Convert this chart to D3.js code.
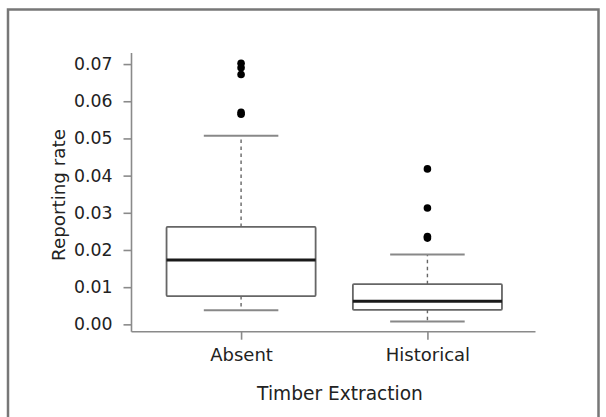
<!DOCTYPE html>
<html><head><meta charset="utf-8">
<script src="https://cdn.jsdelivr.net/npm/d3@7"></script>
<style>
html,body{margin:0;padding:0;background:#fff;}
svg text{font-family:"DejaVu Sans",sans-serif;fill:#222;}
</style></head>
<body><svg id="chart" width="606" height="417"></svg>
<script>
const categories = ["Absent", "Historical"];
const whiskerLow  = [0.0038, 0.0008];
const q1          = [0.0076, 0.0039];
const medians     = [0.0173, 0.0062];
const q3          = [0.0262, 0.0108];
const whiskerHigh = [0.0507, 0.0188];
const outliersAbsent     = [0.0565, 0.0570, 0.0672, 0.0690, 0.0702];
const outliersHistorical = [0.0232, 0.0236, 0.0313, 0.0418];
const yTicks = [0, 0.01, 0.02, 0.03, 0.04, 0.05, 0.06, 0.07];
const xTitle = "Timber Extraction";
const yTitle = "Reporting rate";

const outliers = [outliersAbsent, outliersHistorical];
const svg = d3.select("#chart");

// frame
svg.append("path").attr("d","M8,420 V9.5 H598.5 V420")
  .attr("fill","none").attr("stroke","#777").attr("stroke-width",2.5);

const x = d3.scaleLinear().domain([0.42, 2.58]).range([133, 535.5]);
const allVals = whiskerLow.concat(whiskerHigh, outliersAbsent, outliersHistorical);
const ymin = d3.min(allVals), ymax = d3.max(allVals), pad = (ymax - ymin) * 0.04;
const y = d3.scaleLinear().domain([ymin - pad, ymax + pad]).range([331.7, 53]);

// axes (L-shaped)
const axX = 131.5;
const yAxis = svg.append("g").attr("transform", `translate(${axX},0)`)
  .call(d3.axisLeft(y).tickValues(yTicks).tickFormat(d3.format(".2f")).tickSize(8).tickSizeOuter(0).tickPadding(11));
const xAxis = svg.append("g").attr("transform", `translate(0,${y.range()[0]})`)
  .call(d3.axisBottom(x).tickValues(categories.map((d,i)=>i+1)).tickFormat((d)=>categories[d-1]).tickSize(8).tickSizeOuter(0).tickPadding(8.5));
[yAxis, xAxis].forEach(g=>{
  g.select(".domain").attr("stroke","#8a8a8a").attr("stroke-width",1.6);
  g.selectAll(".tick line").attr("stroke","#8a8a8a").attr("stroke-width",1.6);
  g.selectAll(".tick text").attr("font-size","17.3px").attr("fill","#222");
});
yAxis.select(".domain").attr("d", `M0,${y.range()[1]}V${y.range()[0]}`);
xAxis.select(".domain").attr("d", `M${axX},0H${x.range()[1]}`);
xAxis.selectAll(".tick text").attr("font-size","18px");

// titles
svg.append("text").attr("x", 340).attr("y", 400)
  .attr("text-anchor","middle").attr("font-size","18.6px").text(xTitle);
svg.append("text").attr("transform", `translate(65,195) rotate(-90)`)
  .attr("text-anchor","middle").attr("font-size","18.3px").text(yTitle);

// boxes
const boxW = 0.8, capW = 0.4;
categories.forEach((c,i)=>{
  const cx = x(i+1);
  const g = svg.append("g");
  g.append("line").attr("x1",cx).attr("x2",cx).attr("y1",y(q3[i])).attr("y2",y(whiskerHigh[i]))
    .attr("stroke","#666").attr("stroke-width",1.4).attr("stroke-dasharray","3.5,3.5");
  g.append("line").attr("x1",cx).attr("x2",cx).attr("y1",y(q1[i])).attr("y2",y(whiskerLow[i]))
    .attr("stroke","#666").attr("stroke-width",1.4).attr("stroke-dasharray","3.5,3.5");
  [whiskerLow[i], whiskerHigh[i]].forEach(v=>{
    g.append("line").attr("x1",x(i+1-capW/2)).attr("x2",x(i+1+capW/2)).attr("y1",y(v)).attr("y2",y(v))
      .attr("stroke","#888").attr("stroke-width",2);
  });
  g.append("rect").attr("x",x(i+1-boxW/2)).attr("width",x(i+1+boxW/2)-x(i+1-boxW/2))
    .attr("y",y(q3[i])).attr("height",y(q1[i])-y(q3[i]))
    .attr("fill","#fff").attr("stroke","#666").attr("stroke-width",1.8).attr("rx",1);
  g.append("line").attr("x1",x(i+1-boxW/2)).attr("x2",x(i+1+boxW/2)).attr("y1",y(medians[i])).attr("y2",y(medians[i]))
    .attr("stroke","#1a1a1a").attr("stroke-width",3);
  g.selectAll("circle").data(outliers[i]).join("circle")
    .attr("cx",cx).attr("cy",d=>y(d)).attr("r",3.8).attr("fill","#000");
});
</script></body></html>
